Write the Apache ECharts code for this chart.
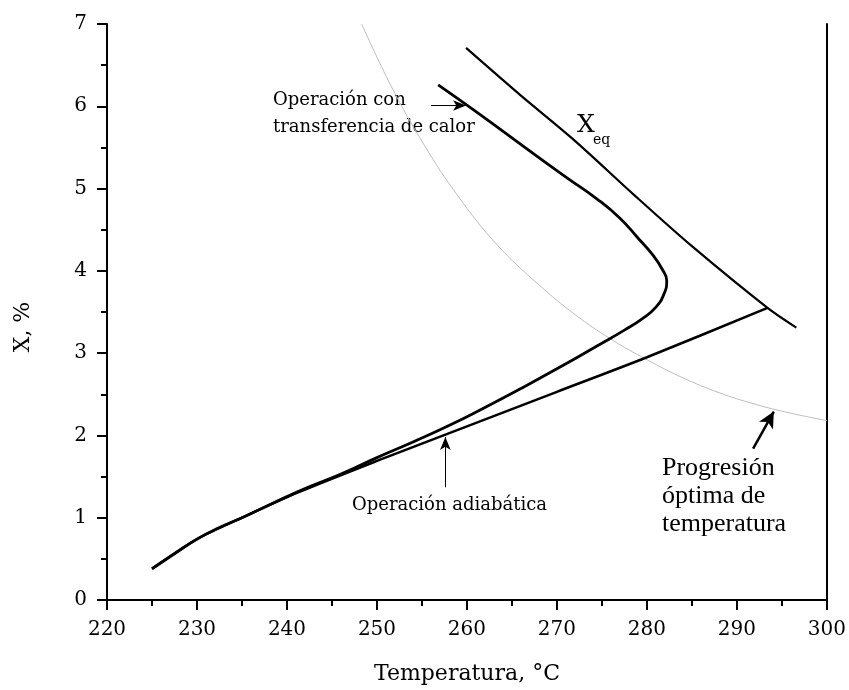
<!DOCTYPE html>
<html>
<head>
<meta charset="utf-8">
<script src="https://cdn.jsdelivr.net/npm/echarts@6/dist/echarts.min.js"></script>
<style>
html,body{margin:0;padding:0;background:#fff;overflow:hidden;}
#main{width:849px;height:690px;}
</style>
</head>
<body>
<div id="main"></div>
<script>
// temperaturas (°C) y conversiones (%)
var calorT = [225.0, 227.5, 230.0, 232.5, 235.0, 241.3, 246.0, 250.0, 254.0, 258.0, 262.0, 266.0, 271.0, 274.5, 277.5, 279.5, 281.0, 281.9, 282.2, 281.7, 280.6, 279.0, 277.0, 274.5, 271.0, 266.7, 261.2, 256.8];
var calorX = [0.38, 0.56, 0.74, 0.88, 1.00, 1.32, 1.53, 1.73, 1.92, 2.12, 2.34, 2.57, 2.87, 3.09, 3.28, 3.42, 3.56, 3.72, 3.88, 4.02, 4.20, 4.40, 4.64, 4.87, 5.14, 5.48, 5.92, 6.26];

var adiabT = [225.0, 230.0, 235.0, 241.3, 250.0, 260.0, 270.0, 280.0, 293.4];
var adiabX = [0.38, 0.74, 1.00, 1.31, 1.69, 2.11, 2.53, 2.95, 3.55];

var eqT = [259.9, 266.0, 272.0, 278.5, 285.0, 293.4, 296.6];
var eqX = [6.71, 6.13, 5.58, 4.93, 4.30, 3.55, 3.31];

var optT = [248.3, 251.6, 255.3, 259.0, 263.4, 268.0, 272.0, 276.0, 280.0, 284.0, 288.0, 292.0, 296.0, 300.0];
var optX = [7.00, 6.24, 5.52, 4.91, 4.31, 3.83, 3.47, 3.17, 2.92, 2.70, 2.52, 2.38, 2.27, 2.18];

var fuente = "'DejaVu Serif', serif";
var fuenteTimes = "'Liberation Serif', serif";

function pares(xs, ys){
    var out = [];
    for(var i=0;i<xs.length;i++){
        out.push([xs[i], ys[i]]);
    }
    return out;
}

var chart = echarts.init(document.getElementById("main"));

var option = {
    "animation": false,
    "backgroundColor": "#fff",
    "grid": {"left": 107, "right": 18, "top": 24, "bottom": 86},
    "xAxis": [
        {
            "type": "value", "position": "bottom",
            "min": 220, "max": 300, "interval": 10,
            "name": "Temperatura, °C", "nameLocation": "middle", "nameGap": 63,
            "nameTextStyle": {"fontFamily": fuente, "fontSize": 22, "color": "#000"},
            "axisLine": {"lineStyle": {"color": "#000", "width": 2}},
            "axisTick": {"length": 10, "lineStyle": {"color": "#000", "width": 2}},
            "minorTick": {"show": true, "splitNumber": 2, "length": 6, "lineStyle": {"color": "#000", "width": 2}},
            "axisLabel": {"fontFamily": fuente, "fontSize": 20, "color": "#000", "margin": 20},
            "splitLine": {"show": false}
        },
        {
            "type": "value", "position": "top",
            "min": 220, "max": 300, "interval": 5,
            "axisLine": {"lineStyle": {"color": "#000", "width": 2}},
            "axisTick": {"inside": true, "length": 3, "lineStyle": {"color": "#000", "width": 1}},
            "axisLabel": {"show": false},
            "splitLine": {"show": false}
        }
    ],
    "yAxis": [
        {
            "type": "value", "position": "left",
            "min": 0, "max": 7, "interval": 1,
            "axisLine": {"show": true, "lineStyle": {"color": "#000", "width": 2}},
            "axisTick": {"show": true, "length": 10, "lineStyle": {"color": "#000", "width": 2}},
            "minorTick": {"show": true, "splitNumber": 2, "length": 6, "lineStyle": {"color": "#000", "width": 2}},
            "axisLabel": {"fontFamily": fuente, "fontSize": 20, "color": "#000", "margin": 20},
            "splitLine": {"show": false}
        },
        {
            "type": "value", "position": "right",
            "min": 0, "max": 7, "interval": 1,
            "axisLine": {"show": true, "lineStyle": {"color": "#000", "width": 2}},
            "axisTick": {"show": false},
            "axisLabel": {"show": false},
            "splitLine": {"show": false}
        }
    ],
    "series": [
        {
            "name": "Progresión óptima", "type": "line", "smooth": 0.4,
            "symbol": "none", "data": pares(optT, optX),
            "lineStyle": {"color": "#bdbdbd", "width": 1}
        },
        {
            "name": "Xeq", "type": "line", "smooth": 0.3,
            "symbol": "none", "data": pares(eqT, eqX),
            "lineStyle": {"color": "#000", "width": 2.2}
        },
        {
            "name": "Adiabática", "type": "line", "smooth": 0.3,
            "symbol": "none", "data": pares(adiabT, adiabX),
            "lineStyle": {"color": "#000", "width": 2.5},
            "markLine": {
                "silent": true,
                "symbol": ["none", "arrow"],
                "symbolSize": [8, 13],
                "label": {"show": false},
                "lineStyle": {"color": "#000", "width": 1, "type": "solid"},
                "data": [
                    [{"coord": [256.0, 6.01]}, {"coord": [259.9, 6.01]}],
                    [{"coord": [257.6, 1.37]}, {"coord": [257.6, 1.98]}],
                    [{"coord": [291.8, 1.84], "lineStyle": {"width": 2.5}},
                     {"coord": [294.1, 2.29], "symbolSize": [12, 16]}]
                ]
            }
        },
        {
            "name": "Transferencia de calor", "type": "line", "smooth": 0.5,
            "symbol": "none", "data": pares(calorT, calorX),
            "lineStyle": {"color": "#000", "width": 2.8}
        }
    ],
    "graphic": [
        {"type": "text", "x": 23, "y": 327, "rotation": Math.PI / 2,
         "style": {"text": "X, %", "font": "22px " + fuente, "fill": "#000", "align": "center", "verticalAlign": "middle"}},
        {"type": "text", "left": 273, "top": 91, "style": {"text": "Operación con", "font": "18px " + fuente, "fill": "#000"}},
        {"type": "text", "left": 273, "top": 118, "style": {"text": "transferencia de calor", "font": "18px " + fuente, "fill": "#000"}},
        {"type": "text", "left": 352, "top": 496, "style": {"text": "Operación adiabática", "font": "18px " + fuente, "fill": "#000"}},
        {"type": "text", "left": 577, "top": 113, "style": {"text": "X", "font": "25px " + fuente, "fill": "#000"}},
        {"type": "text", "left": 593, "top": 133, "style": {"text": "eq", "font": "14px " + fuente, "fill": "#000"}},
        {"type": "text", "left": 662, "top": 455, "style": {"text": "Progresión", "font": "26px " + fuenteTimes, "fill": "#000"}},
        {"type": "text", "left": 662, "top": 483, "style": {"text": "óptima de", "font": "26px " + fuenteTimes, "fill": "#000"}},
        {"type": "text", "left": 662, "top": 511, "style": {"text": "temperatura", "font": "26px " + fuenteTimes, "fill": "#000"}}
    ]
};

if( option && option.series ){
    chart.setOption(option);
}
</script>
</body>
</html>
